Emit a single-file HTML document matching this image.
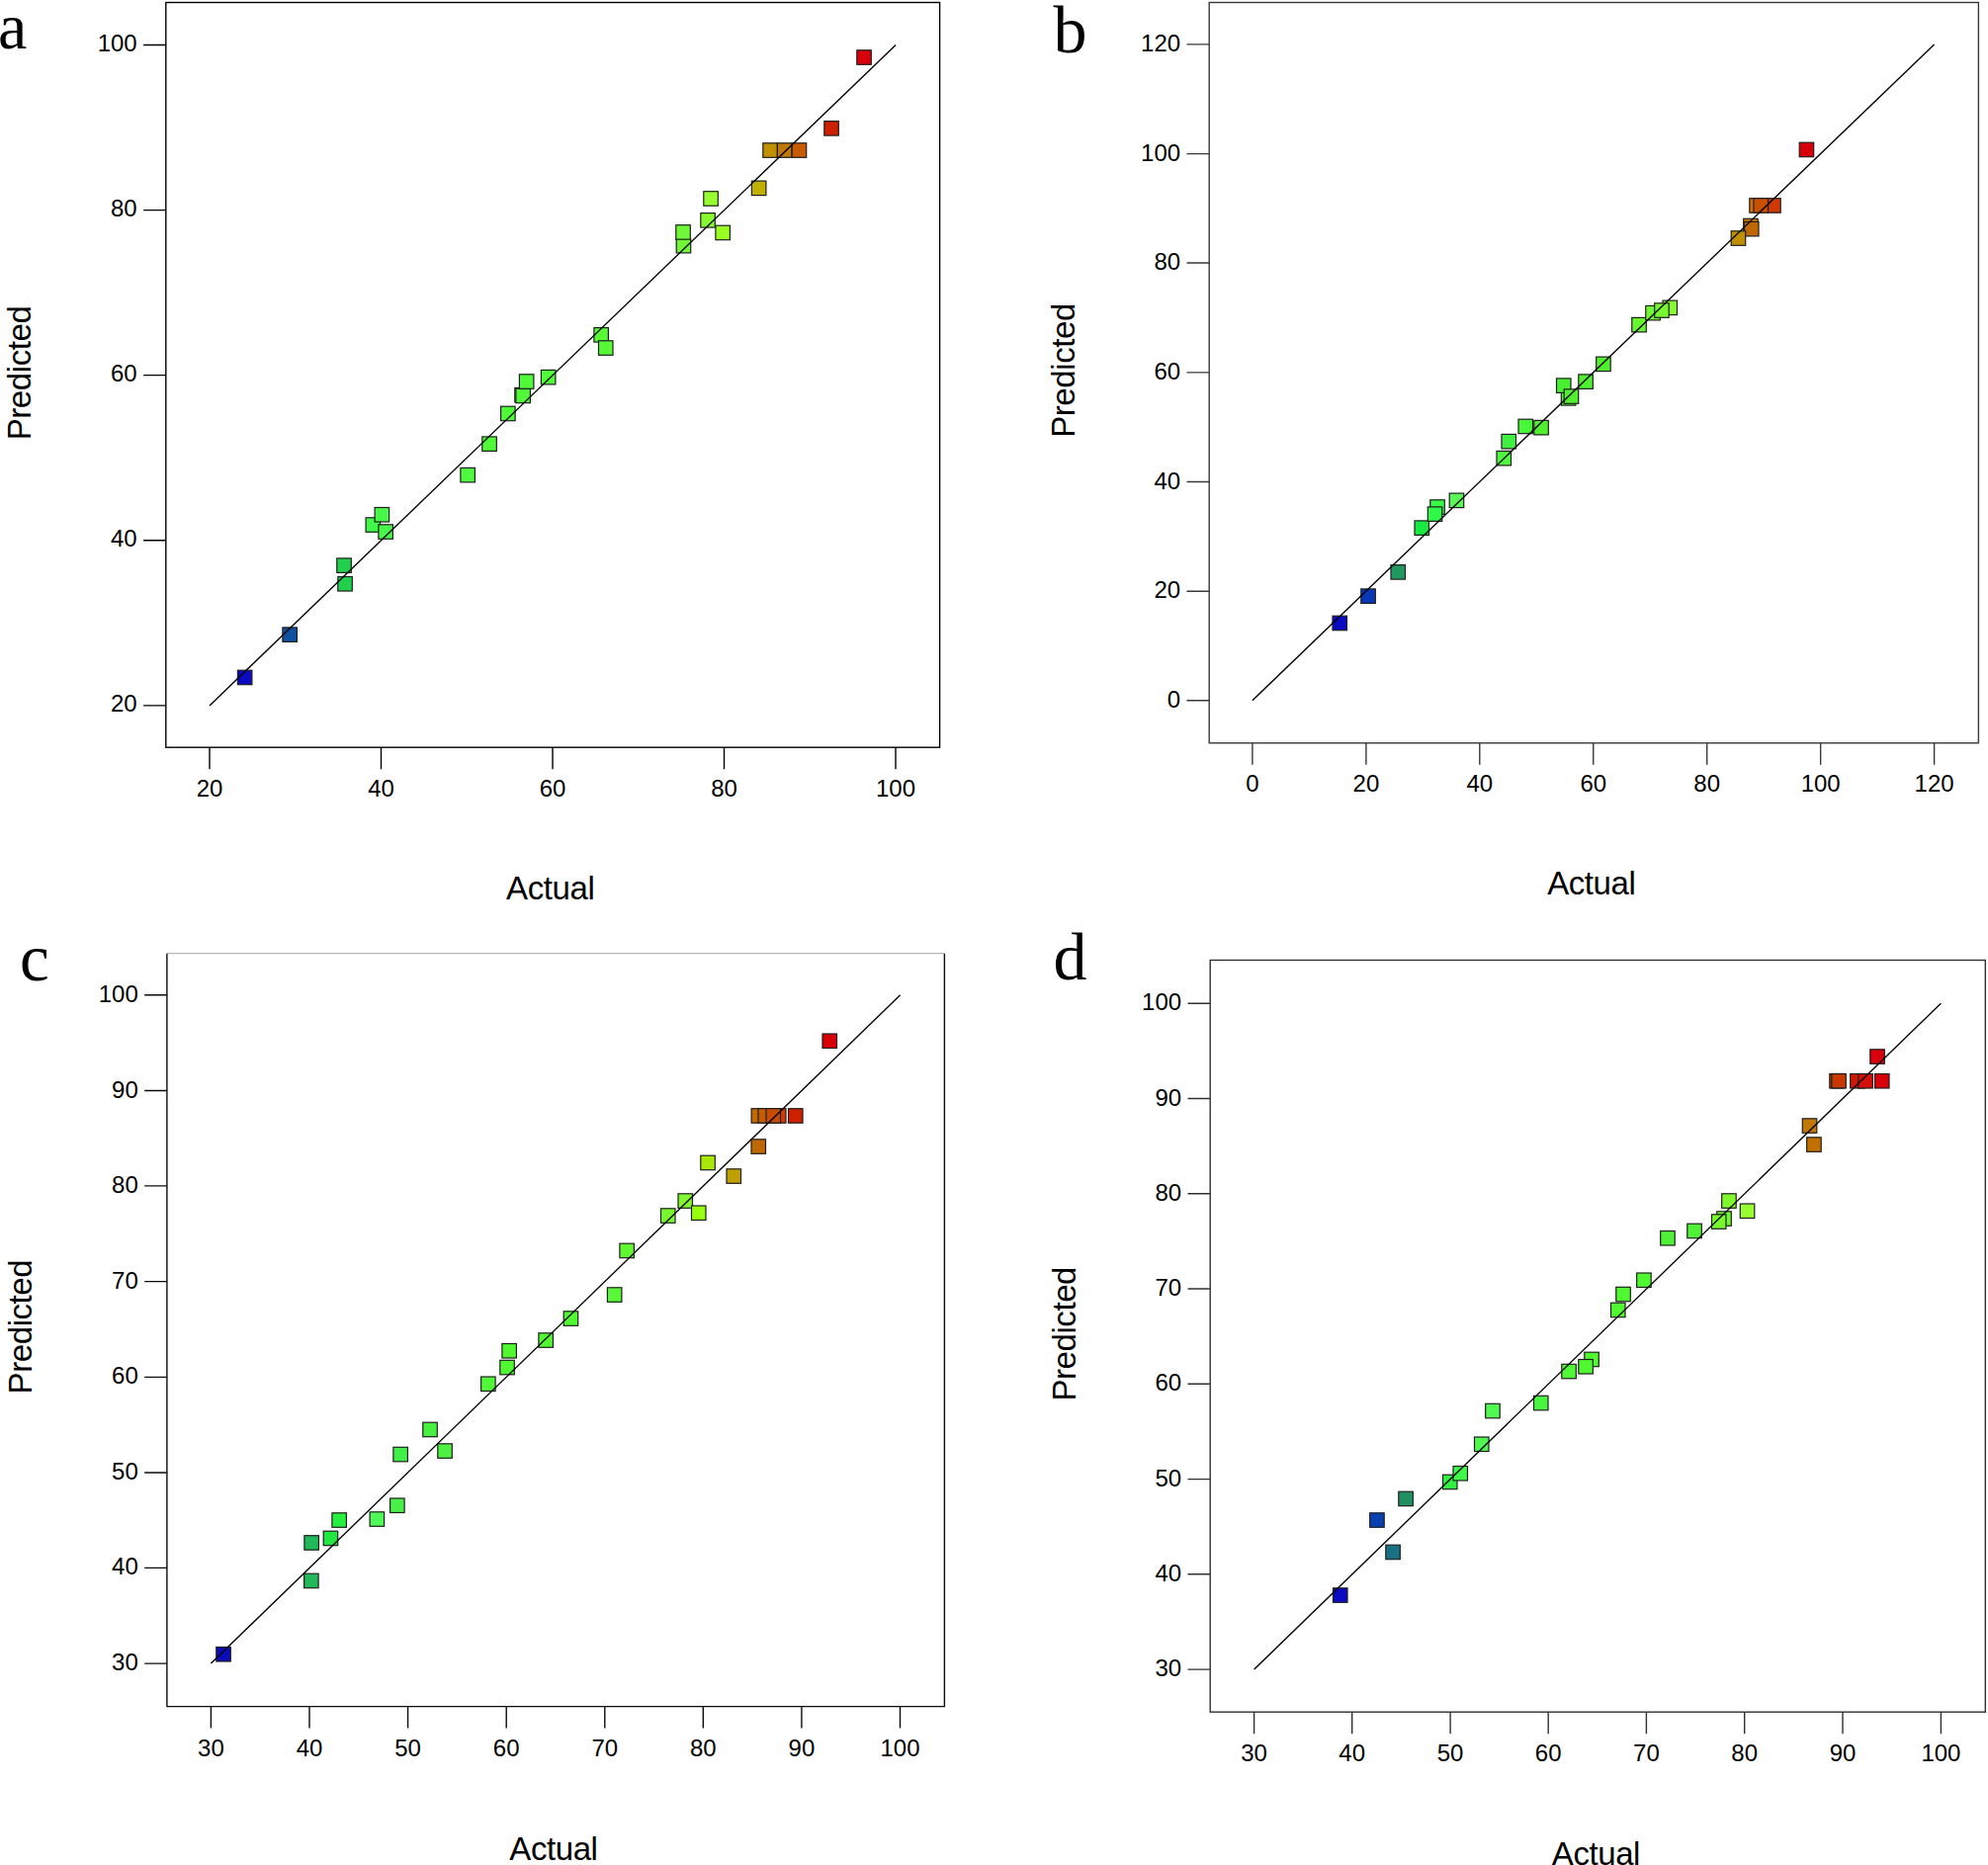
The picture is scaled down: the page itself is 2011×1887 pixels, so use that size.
<!DOCTYPE html>
<html lang="en">
<head>
<meta charset="utf-8">
<title>Predicted vs Actual</title>
<style>
html,body{margin:0;padding:0;background:#fff;}
svg{display:block;}
.ax{stroke-width:1.4;fill:none;}
.fit{stroke:#000;stroke-width:1.35;}
.m rect{stroke:#1e1e1e;stroke-width:1.2;}
.tk{font-family:"Liberation Sans",sans-serif;font-size:24px;fill:#000;}
.ti{font-family:"Liberation Sans",sans-serif;font-size:33px;fill:#000;letter-spacing:-0.42px;}
.lt{font-family:"Liberation Serif",serif;fill:#000;}
</style>
</head>
<body>
<svg width="2011" height="1887" viewBox="0 0 2011 1887">
<rect x="0" y="0" width="2011" height="1887" fill="#ffffff"/>
<g id="panel-a">
<rect class="ax" stroke="#000" x="167.80" y="2.50" width="782.80" height="753.70"/>
<path class="ax" stroke="#000" d="M145.10 45.50H167.80M145.10 212.60H167.80M145.10 379.60H167.80M145.10 546.70H167.80M145.10 713.90H167.80M212.00 756.20V778.20M385.50 756.20V778.20M559.00 756.20V778.20M732.50 756.20V778.20M906.00 756.20V778.20"/>
<g class="tk" text-anchor="end"><text x="138.7" y="51.9">100</text><text x="138.7" y="219.0">80</text><text x="138.7" y="386.0">60</text><text x="138.7" y="553.1">40</text><text x="138.7" y="720.3">20</text></g>
<g class="tk" text-anchor="middle"><text x="212.0" y="806.2">20</text><text x="385.5" y="806.2">40</text><text x="559.0" y="806.2">60</text><text x="732.5" y="806.2">80</text><text x="906.0" y="806.2">100</text></g>
<g class="m"><rect x="240.4" y="678.2" width="14.5" height="14.5" fill="#0a0ac0"/><rect x="285.9" y="634.9" width="14.5" height="14.5" fill="#1050a0"/><rect x="341.8" y="583.5" width="14.5" height="14.5" fill="#22d04e"/><rect x="340.8" y="564.9" width="14.5" height="14.5" fill="#22d04e"/><rect x="370.1" y="523.8" width="14.5" height="14.5" fill="#40f848"/><rect x="382.9" y="530.8" width="14.5" height="14.5" fill="#48f848"/><rect x="379.1" y="513.5" width="14.5" height="14.5" fill="#48f848"/><rect x="465.9" y="473.4" width="14.5" height="14.5" fill="#50fa40"/><rect x="487.8" y="441.9" width="14.5" height="14.5" fill="#50fa38"/><rect x="506.6" y="411.2" width="14.5" height="14.5" fill="#50fa38"/><rect x="520.8" y="392.4" width="14.5" height="14.5" fill="#50fa38"/><rect x="521.9" y="393.2" width="14.5" height="14.5" fill="#50fa38"/><rect x="525.4" y="378.8" width="14.5" height="14.5" fill="#50fa38"/><rect x="547.4" y="374.4" width="14.5" height="14.5" fill="#50fa38"/><rect x="600.9" y="331.6" width="14.5" height="14.5" fill="#58fa38"/><rect x="605.5" y="344.8" width="14.5" height="14.5" fill="#58fa38"/><rect x="684.2" y="241.4" width="14.5" height="14.5" fill="#70f838"/><rect x="683.8" y="227.7" width="14.5" height="14.5" fill="#70f838"/><rect x="708.8" y="215.6" width="14.5" height="14.5" fill="#88f830"/><rect x="723.9" y="228.2" width="14.5" height="14.5" fill="#98ff20"/><rect x="711.8" y="193.7" width="14.5" height="14.5" fill="#98ff30"/><rect x="760.4" y="183.1" width="14.5" height="14.5" fill="#c0b000"/><rect x="771.8" y="144.8" width="14.5" height="14.5" fill="#c09000"/><rect x="786.4" y="144.8" width="14.5" height="14.5" fill="#c07808"/><rect x="801.2" y="144.8" width="14.5" height="14.5" fill="#c85a00"/><rect x="833.8" y="122.6" width="14.5" height="14.5" fill="#cc2000"/><rect x="866.8" y="50.8" width="14.5" height="14.5" fill="#d8000a"/></g>
<line class="fit" x1="212.0" y1="713.9" x2="906.1" y2="45.5"/>
<text class="ti" x="512.1" y="909.8">Actual</text>
<text class="ti" transform="translate(31.3 445.3) rotate(-90)">Predicted</text>
<text class="lt" x="-2.0" y="49.2" font-size="66">a</text>
</g>
<g id="panel-b">
<rect class="ax" stroke="#383838" x="1223.20" y="2.50" width="778.20" height="749.30"/>
<path class="ax" stroke="#383838" d="M1200.50 44.90H1223.20M1200.50 155.60H1223.20M1200.50 266.00H1223.20M1200.50 376.90H1223.20M1200.50 487.50H1223.20M1200.50 598.30H1223.20M1200.50 708.70H1223.20M1266.90 751.80V773.80M1381.90 751.80V773.80M1496.80 751.80V773.80M1611.75 751.80V773.80M1726.70 751.80V773.80M1841.65 751.80V773.80M1956.60 751.80V773.80"/>
<g class="tk" text-anchor="end"><text x="1194.1" y="51.9">120</text><text x="1194.1" y="162.6">100</text><text x="1194.1" y="273.0">80</text><text x="1194.1" y="383.9">60</text><text x="1194.1" y="494.5">40</text><text x="1194.1" y="605.3">20</text><text x="1194.1" y="715.7">0</text></g>
<g class="tk" text-anchor="middle"><text x="1266.9" y="801.2">0</text><text x="1381.9" y="801.2">20</text><text x="1496.8" y="801.2">40</text><text x="1611.8" y="801.2">60</text><text x="1726.7" y="801.2">80</text><text x="1841.7" y="801.2">100</text><text x="1956.6" y="801.2">120</text></g>
<g class="m"><rect x="1348.0" y="623.2" width="14.5" height="14.5" fill="#0a0ac0"/><rect x="1376.8" y="595.9" width="14.5" height="14.5" fill="#0838b8"/><rect x="1407.0" y="571.6" width="14.5" height="14.5" fill="#209860"/><rect x="1431.0" y="526.9" width="14.5" height="14.5" fill="#18e840"/><rect x="1446.8" y="505.8" width="14.5" height="14.5" fill="#38f848"/><rect x="1444.3" y="512.9" width="14.5" height="14.5" fill="#30f848"/><rect x="1466.2" y="499.1" width="14.5" height="14.5" fill="#58f858"/><rect x="1514.0" y="456.4" width="14.5" height="14.5" fill="#50f840"/><rect x="1519.0" y="439.4" width="14.5" height="14.5" fill="#40f040"/><rect x="1536.0" y="424.2" width="14.5" height="14.5" fill="#48f838"/><rect x="1551.8" y="425.4" width="14.5" height="14.5" fill="#50f030"/><rect x="1579.3" y="395.6" width="14.5" height="14.5" fill="#50f030"/><rect x="1574.5" y="382.9" width="14.5" height="14.5" fill="#48f030"/><rect x="1582.2" y="393.8" width="14.5" height="14.5" fill="#50f030"/><rect x="1596.8" y="378.9" width="14.5" height="14.5" fill="#50f030"/><rect x="1614.7" y="361.1" width="14.5" height="14.5" fill="#50f030"/><rect x="1650.8" y="321.4" width="14.5" height="14.5" fill="#68f830"/><rect x="1664.8" y="309.4" width="14.5" height="14.5" fill="#70f830"/><rect x="1682.0" y="304.1" width="14.5" height="14.5" fill="#88f830"/><rect x="1673.7" y="306.8" width="14.5" height="14.5" fill="#78f830"/><rect x="1763.7" y="221.3" width="14.5" height="14.5" fill="#d87800"/><rect x="1764.5" y="224.4" width="14.5" height="14.5" fill="#c06800"/><rect x="1751.2" y="233.8" width="14.5" height="14.5" fill="#c09000"/><rect x="1769.8" y="200.7" width="14.5" height="14.5" fill="#d07000"/><rect x="1786.7" y="200.7" width="14.5" height="14.5" fill="#d03800"/><rect x="1774.0" y="200.7" width="14.5" height="14.5" fill="#c85000"/><rect x="1820.2" y="144.2" width="14.5" height="14.5" fill="#d80008"/></g>
<line class="fit" x1="1266.9" y1="708.7" x2="1956.6" y2="44.9"/>
<text class="ti" x="1565.2" y="904.7">Actual</text>
<text class="ti" transform="translate(1087.4 442.8) rotate(-90)">Predicted</text>
<text class="lt" x="1065.6" y="52.8" font-size="68">b</text>
</g>
<g id="panel-c">
<path class="ax" stroke="#0c0c0c" d="M168.90 964.70V1726.60H955.40V964.70"/>
<path d="M168.90 964.70H955.40" stroke="#9a9a9a" stroke-width="0.9" fill="none"/>
<path class="ax" stroke="#0c0c0c" d="M146.20 1006.80H168.90M146.20 1103.50H168.90M146.20 1199.90H168.90M146.20 1296.60H168.90M146.20 1393.40H168.90M146.20 1490.00H168.90M146.20 1586.40H168.90M146.20 1683.10H168.90M213.40 1726.60V1748.60M313.00 1726.60V1748.60M412.60 1726.60V1748.60M512.20 1726.60V1748.60M611.80 1726.60V1748.60M711.30 1726.60V1748.60M810.90 1726.60V1748.60M910.50 1726.60V1748.60"/>
<g class="tk" text-anchor="end"><text x="139.8" y="1013.8">100</text><text x="139.8" y="1110.5">90</text><text x="139.8" y="1206.9">80</text><text x="139.8" y="1303.6">70</text><text x="139.8" y="1400.4">60</text><text x="139.8" y="1497.0">50</text><text x="139.8" y="1593.4">40</text><text x="139.8" y="1690.1">30</text></g>
<g class="tk" text-anchor="middle"><text x="213.4" y="1777.0">30</text><text x="313.0" y="1777.0">40</text><text x="412.6" y="1777.0">50</text><text x="512.2" y="1777.0">60</text><text x="611.8" y="1777.0">70</text><text x="711.3" y="1777.0">80</text><text x="810.9" y="1777.0">90</text><text x="910.5" y="1777.0">100</text></g>
<g class="m"><rect x="218.8" y="1666.5" width="14.5" height="14.5" fill="#0a0ab8"/><rect x="307.6" y="1592.2" width="14.5" height="14.5" fill="#20b858"/><rect x="307.9" y="1553.7" width="14.5" height="14.5" fill="#20b858"/><rect x="327.2" y="1549.2" width="14.5" height="14.5" fill="#20e840"/><rect x="335.9" y="1530.8" width="14.5" height="14.5" fill="#28f040"/><rect x="374.1" y="1529.8" width="14.5" height="14.5" fill="#50f858"/><rect x="394.6" y="1516.0" width="14.5" height="14.5" fill="#48f048"/><rect x="397.9" y="1464.3" width="14.5" height="14.5" fill="#40f048"/><rect x="427.8" y="1439.2" width="14.5" height="14.5" fill="#48f040"/><rect x="442.8" y="1460.8" width="14.5" height="14.5" fill="#50f040"/><rect x="486.6" y="1393.0" width="14.5" height="14.5" fill="#50f838"/><rect x="505.8" y="1376.3" width="14.5" height="14.5" fill="#50f830"/><rect x="507.9" y="1359.5" width="14.5" height="14.5" fill="#50f830"/><rect x="544.9" y="1348.8" width="14.5" height="14.5" fill="#50f830"/><rect x="570.2" y="1326.8" width="14.5" height="14.5" fill="#50f830"/><rect x="614.4" y="1302.8" width="14.5" height="14.5" fill="#58f838"/><rect x="626.9" y="1258.2" width="14.5" height="14.5" fill="#60f830"/><rect x="668.5" y="1222.8" width="14.5" height="14.5" fill="#78f830"/><rect x="686.0" y="1207.8" width="14.5" height="14.5" fill="#80f830"/><rect x="699.5" y="1220.0" width="14.5" height="14.5" fill="#98ff10"/><rect x="708.8" y="1169.2" width="14.5" height="14.5" fill="#a8e808"/><rect x="735.0" y="1182.8" width="14.5" height="14.5" fill="#c0a000"/><rect x="760.0" y="1152.8" width="14.5" height="14.5" fill="#c06800"/><rect x="780.5" y="1121.7" width="14.5" height="14.5" fill="#cc3c04"/><rect x="760.1" y="1121.7" width="14.5" height="14.5" fill="#c46800"/><rect x="767.0" y="1121.7" width="14.5" height="14.5" fill="#c45c04"/><rect x="775.0" y="1121.7" width="14.5" height="14.5" fill="#c84c04"/><rect x="797.5" y="1121.7" width="14.5" height="14.5" fill="#cc2000"/><rect x="832.0" y="1046.0" width="14.5" height="14.5" fill="#d80008"/></g>
<line class="fit" x1="213.4" y1="1683.1" x2="910.6" y2="1006.8"/>
<text class="ti" x="515.3" y="1881.9">Actual</text>
<text class="ti" transform="translate(31.8 1410.4) rotate(-90)">Predicted</text>
<text class="lt" x="19.9" y="991.6" font-size="67">c</text>
</g>
<g id="panel-d">
<rect class="ax" stroke="#303030" x="1224.20" y="971.50" width="784.10" height="760.70"/>
<path class="ax" stroke="#303030" d="M1201.50 1015.20H1224.20M1201.50 1111.50H1224.20M1201.50 1207.70H1224.20M1201.50 1304.00H1224.20M1201.50 1400.30H1224.20M1201.50 1496.60H1224.20M1201.50 1592.80H1224.20M1201.50 1689.10H1224.20M1268.60 1732.20V1754.20M1367.70 1732.20V1754.20M1467.10 1732.20V1754.20M1566.20 1732.20V1754.20M1665.40 1732.20V1754.20M1764.70 1732.20V1754.20M1864.00 1732.20V1754.20M1963.40 1732.20V1754.20"/>
<g class="tk" text-anchor="end"><text x="1195.1" y="1022.3">100</text><text x="1195.1" y="1118.6">90</text><text x="1195.1" y="1214.8">80</text><text x="1195.1" y="1311.1">70</text><text x="1195.1" y="1407.4">60</text><text x="1195.1" y="1503.7">50</text><text x="1195.1" y="1599.9">40</text><text x="1195.1" y="1696.2">30</text></g>
<g class="tk" text-anchor="middle"><text x="1268.6" y="1782.1">30</text><text x="1367.7" y="1782.1">40</text><text x="1467.1" y="1782.1">50</text><text x="1566.2" y="1782.1">60</text><text x="1665.4" y="1782.1">70</text><text x="1764.7" y="1782.1">80</text><text x="1864.0" y="1782.1">90</text><text x="1963.4" y="1782.1">100</text></g>
<g class="m"><rect x="1348.5" y="1606.8" width="14.5" height="14.5" fill="#0a0ac0"/><rect x="1385.7" y="1530.8" width="14.5" height="14.5" fill="#0840b0"/><rect x="1401.8" y="1563.2" width="14.5" height="14.5" fill="#187080"/><rect x="1414.8" y="1509.2" width="14.5" height="14.5" fill="#209060"/><rect x="1459.5" y="1492.2" width="14.5" height="14.5" fill="#30f040"/><rect x="1470.0" y="1483.5" width="14.5" height="14.5" fill="#40f848"/><rect x="1491.5" y="1454.0" width="14.5" height="14.5" fill="#50f850"/><rect x="1502.7" y="1420.3" width="14.5" height="14.5" fill="#50f850"/><rect x="1551.5" y="1412.3" width="14.5" height="14.5" fill="#48f840"/><rect x="1579.8" y="1380.3" width="14.5" height="14.5" fill="#50f838"/><rect x="1602.8" y="1368.2" width="14.5" height="14.5" fill="#50f830"/><rect x="1596.8" y="1375.5" width="14.5" height="14.5" fill="#50f830"/><rect x="1629.5" y="1318.2" width="14.5" height="14.5" fill="#50f830"/><rect x="1634.8" y="1302.3" width="14.5" height="14.5" fill="#50f830"/><rect x="1655.7" y="1288.0" width="14.5" height="14.5" fill="#50f830"/><rect x="1679.7" y="1245.5" width="14.5" height="14.5" fill="#50f038"/><rect x="1706.8" y="1238.2" width="14.5" height="14.5" fill="#50f038"/><rect x="1736.8" y="1225.8" width="14.5" height="14.5" fill="#70f830"/><rect x="1731.5" y="1228.8" width="14.5" height="14.5" fill="#78f830"/><rect x="1741.7" y="1207.8" width="14.5" height="14.5" fill="#80f830"/><rect x="1760.3" y="1218.0" width="14.5" height="14.5" fill="#98ff30"/><rect x="1823.3" y="1131.8" width="14.5" height="14.5" fill="#c07808"/><rect x="1827.7" y="1150.8" width="14.5" height="14.5" fill="#c07000"/><rect x="1850.8" y="1086.5" width="14.5" height="14.5" fill="#c83800"/><rect x="1852.8" y="1086.5" width="14.5" height="14.5" fill="#c83800"/><rect x="1871.7" y="1086.5" width="14.5" height="14.5" fill="#d01800"/><rect x="1879.8" y="1086.5" width="14.5" height="14.5" fill="#d41008"/><rect x="1896.5" y="1086.5" width="14.5" height="14.5" fill="#d80008"/><rect x="1891.8" y="1061.8" width="14.5" height="14.5" fill="#d8000a"/></g>
<line class="fit" x1="1268.6" y1="1689.1" x2="1963.4" y2="1015.2"/>
<text class="ti" x="1569.8" y="1886.7">Actual</text>
<text class="ti" transform="translate(1087.6 1417.6) rotate(-90)">Predicted</text>
<text class="lt" x="1065.4" y="990.9" font-size="68">d</text>
</g>
</svg>
</body>
</html>
